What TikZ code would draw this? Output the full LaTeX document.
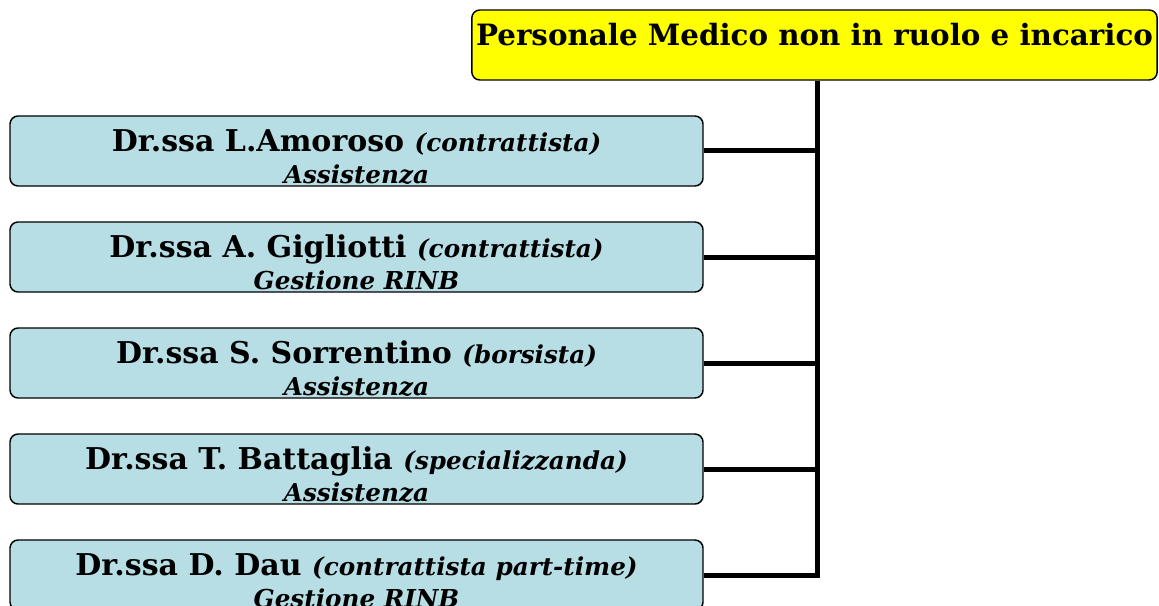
\documentclass[tikz,border=0pt]{standalone}
\usepackage{fontspec}
\setmainfont{DejaVu Serif}
\usetikzlibrary{positioning}
\definecolor{paleblue}{RGB}{183,222,228}
\definecolor{headyellow}{RGB}{255,255,0}
\newcommand{\role}[1]{{\fontsize{18.5}{20}\selectfont\itshape #1}}
\newcommand{\task}[1]{\raisebox{0pt}[\height][0pt]{\role{#1}}}
\newcommand{\tall}{\rule{0pt}{24pt}}

\begin{document}
\begin{tikzpicture}[x=0.75pt, y=-0.75pt, node distance={79.5pt},
  head/.style = {draw, rounded corners=6pt, fill=headyellow, line width=1.1pt, minimum width=514pt, minimum height=52.5pt, inner sep=0pt, text depth=16pt, font=\bfseries\fontsize{22}{26}\selectfont},
  doc/.style = {draw, rounded corners=6pt, fill=paleblue, line width=1.1pt, minimum width=519.75pt, minimum height=52.5pt, align=center, inner sep=0pt, font=\bfseries\fontsize{22.5}{24}\selectfont},
  link/.style = {line width=3.75pt}]
\useasboundingbox (0,0) rectangle (1159,606);
\node[head] (top) at (814.5,45) {Personale Medico non in ruolo e incarico};
\node[doc] (a) at (356.5,151) {\tall Dr.ssa L.Amoroso \role{(contrattista)}\\ \task{Assistenza}};
\node[doc] (b) [below of=a] {\tall Dr.ssa A. Gigliotti \role{(contrattista)}\\ \task{Gestione RINB}};
\node[doc] (c) [below of=b] {\tall Dr.ssa S. Sorrentino \role{(borsista)}\\ \task{Assistenza}};
\node[doc] (d) [below of=c] {\tall Dr.ssa T. Battaglia \role{(specializzanda)}\\ \task{Assistenza}};
\node[doc] (e) [below of=d] {\tall Dr.ssa D. Dau \role{(contrattista part-time)}\\ \task{Gestione RINB}};
\coordinate (spine) at ([xshift=2.5pt]top.south);
\draw[link] (spine) |- (e.east);
\draw[link] (a.east) -- (a.east -| spine);
\draw[link] (b.east) -- (b.east -| spine);
\draw[link] (c.east) -- (c.east -| spine);
\draw[link] (d.east) -- (d.east -| spine);
\end{tikzpicture}
\end{document}
